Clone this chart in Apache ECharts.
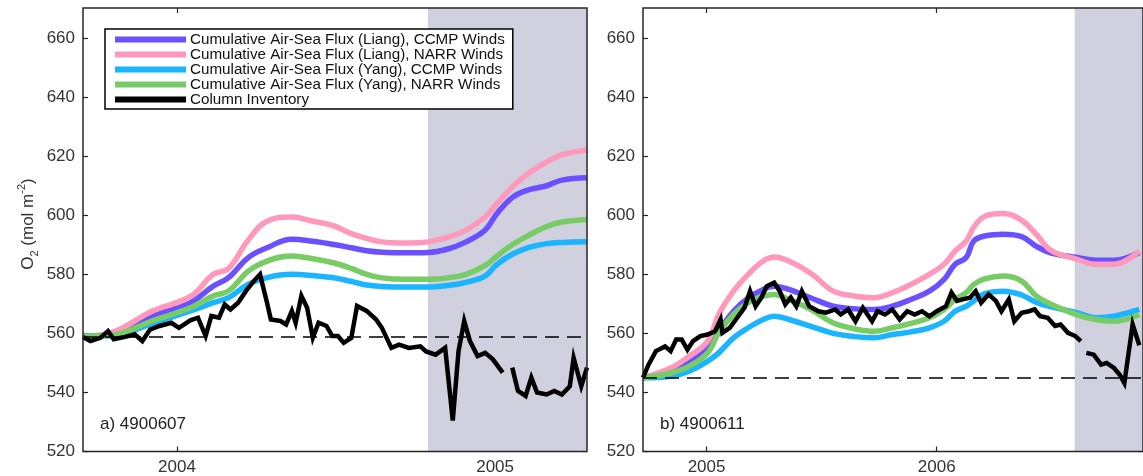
<!DOCTYPE html>
<html>
<head>
<meta charset="utf-8">
<script src="https://cdn.jsdelivr.net/npm/echarts@6/dist/echarts.min.js"></script>
<style>
html,body{margin:0;padding:0;background:#ffffff;}
#c{width:1143px;height:476px;}
</style>
</head>
<body>
<div id="c"></div>
<script>
// ---------- DATA ----------
const seriesNames = [
  'Cumulative Air-Sea Flux (Liang), CCMP Winds',
  'Cumulative Air-Sea Flux (Liang), NARR Winds',
  'Cumulative Air-Sea Flux (Yang), CCMP Winds',
  'Cumulative Air-Sea Flux (Yang), NARR Winds',
  'Column Inventory'
];
const panelLabels = ['a) 4900607', 'b) 4900611'];
const yTicks = [520, 540, 560, 580, 600, 620, 640, 660];
const xTicksA = [2004, 2005];
const xTicksB = [2005, 2006];

// Panel a (decimal years)
const tA = [2003.704, 2003.801, 2003.921, 2004.042, 2004.114, 2004.162, 2004.223, 2004.283, 2004.361, 2004.427, 2004.488, 2004.548, 2004.596, 2004.644, 2004.717, 2004.789, 2004.849, 2004.909, 2004.969, 2005.006, 2005.054, 2005.102, 2005.162, 2005.210, 2005.289];
const liangCCMP_A = [559, 560, 565.8, 570.4, 576, 578.9, 585.6, 589, 591.9, 591.2, 590.2, 589, 588, 587.5, 587.3, 587.4, 588.5, 591, 595, 600.6, 606, 608.5, 610, 611.9, 612.7];
const liangNARR_A = [559, 560.5, 567.5, 572.5, 580, 582, 591.5, 598, 599.4, 598, 596.6, 593.8, 592.2, 591, 590.6, 591, 592.5, 595, 599.5, 604, 609.6, 614, 618, 620.5, 622];
const yangCCMP_A = [559, 559.3, 563.3, 567.6, 570.4, 572.1, 576.6, 578.9, 580, 579.6, 578.9, 577.6, 576.4, 575.9, 575.7, 575.7, 576.2, 577.3, 579.5, 583.4, 586.8, 589, 590.4, 590.8, 591];
const yangNARR_A = [559, 559.5, 564.2, 568.7, 572.7, 574.4, 581, 584.5, 586.2, 585.3, 584, 582, 580, 578.8, 578.3, 578.3, 578.8, 580, 583, 586.2, 590, 593, 596.2, 597.7, 598.6];
const columnA_t = [2003.704, 2003.728, 2003.759, 2003.783, 2003.801, 2003.837, 2003.867, 2003.891, 2003.915, 2003.945, 2003.982, 2004.006, 2004.042, 2004.066, 2004.090, 2004.108, 2004.132, 2004.150, 2004.168, 2004.192, 2004.217, 2004.241, 2004.261, 2004.283, 2004.295, 2004.325, 2004.343, 2004.361, 2004.373, 2004.391, 2004.409, 2004.427, 2004.445, 2004.470, 2004.488, 2004.506, 2004.524, 2004.548, 2004.566, 2004.596, 2004.626, 2004.644, 2004.674, 2004.698, 2004.729, 2004.765, 2004.783, 2004.813, 2004.843, 2004.867, 2004.885, 2004.903, 2004.921, 2004.945, 2004.969, 2004.993, 2005.024, 2005.039, 2005.054, 2005.072, 2005.096, 2005.114, 2005.132, 2005.162, 2005.186, 2005.210, 2005.235, 2005.247, 2005.271, 2005.289];
const columnA_v = [558.8, 557.4, 558.5, 560.8, 558, 558.8, 559.7, 557.4, 561.3, 562.5, 563.6, 561.9, 564.4, 565.3, 559.1, 565.9, 565.3, 569.8, 568.1, 570.4, 574.4, 577.7, 580, 570.4, 564.7, 564.2, 563, 567.6, 563.6, 572.7, 568.7, 558.5, 563.6, 562.5, 559.1, 559.1, 556.8, 558.5, 569.3, 567.6, 564.7, 561.9, 555.1, 556.2, 555.1, 555.6, 553.9, 552.8, 555.1, 530.5, 553.9, 564.2, 557.4, 552.3, 553.4, 551.2, 546.7, null, 548.4, 540.5, 538.8, 545, 540, 539.3, 540.5, 539.3, 542.1, 551.7, 542.1, 548.4];

// Panel b (decimal years)
const tB = [2004.724, 2004.844, 2004.925, 2005.005, 2005.053, 2005.117, 2005.181, 2005.246, 2005.294, 2005.358, 2005.454, 2005.551, 2005.647, 2005.727, 2005.807, 2005.888, 2005.968, 2006.032, 2006.080, 2006.128, 2006.161, 2006.209, 2006.289, 2006.369, 2006.433, 2006.498, 2006.610, 2006.690, 2006.770, 2006.880];
const liangCCMP_B = [545, 547.2, 550, 555.1, 560.7, 567.5, 572, 574.9, 576, 574.9, 572, 569.2, 568.3, 568.1, 569.2, 571.5, 574.3, 578.3, 583.4, 585.7, 591.3, 593, 593.6, 592.8, 589.5, 587.2, 585.7, 584.8, 584.8, 587.4];
const liangNARR_B = [545, 548.3, 552.3, 557.4, 566.4, 574.3, 580, 584.5, 585.9, 584.5, 580.3, 574.3, 572.6, 572.1, 573.8, 576.6, 580, 583.4, 587.9, 591.3, 596, 599.7, 600.6, 598.3, 593.5, 588, 585.1, 583.4, 583.4, 587.9];
const yangCCMP_B = [545, 545.5, 547.2, 550.6, 553.4, 558.5, 561.9, 564.7, 565.8, 564.7, 562.4, 560, 558.9, 558.5, 559.6, 560.5, 561.9, 564.1, 567.5, 569.2, 571, 573.5, 574.3, 573, 570.5, 569, 567, 565.3, 565.8, 568.1];
const yangNARR_B = [545, 546.6, 548.9, 553.4, 560.2, 566.4, 570.4, 572.6, 573.2, 571.5, 568.1, 563.5, 561.5, 560.7, 561.9, 563.4, 565.3, 568.1, 571.5, 573.8, 576.6, 578.5, 579.4, 577.7, 572.6, 569.8, 566.3, 564.7, 564.1, 566.4];
const columnB_t = [2004.724, 2004.748, 2004.780, 2004.820, 2004.844, 2004.868, 2004.892, 2004.917, 2004.941, 2004.973, 2005.005, 2005.037, 2005.061, 2005.069, 2005.101, 2005.133, 2005.165, 2005.189, 2005.213, 2005.238, 2005.262, 2005.294, 2005.318, 2005.342, 2005.366, 2005.390, 2005.414, 2005.446, 2005.486, 2005.518, 2005.559, 2005.583, 2005.615, 2005.647, 2005.679, 2005.719, 2005.743, 2005.775, 2005.807, 2005.839, 2005.872, 2005.904, 2005.936, 2005.968, 2006.000, 2006.040, 2006.064, 2006.088, 2006.112, 2006.144, 2006.169, 2006.193, 2006.225, 2006.257, 2006.281, 2006.313, 2006.337, 2006.369, 2006.401, 2006.425, 2006.449, 2006.482, 2006.514, 2006.538, 2006.570, 2006.602, 2006.626, 2006.638, 2006.650, 2006.682, 2006.714, 2006.738, 2006.770, 2006.795, 2006.815, 2006.851, 2006.880];
const columnB_v = [545, 549.4, 554, 555.6, 554, 557.9, 557.9, 554.5, 557.4, 559.1, 559.6, 560.7, 564.7, 560.2, 561.9, 565.3, 568.7, 574.3, 569.2, 572.1, 576, 577.2, 574.3, 569.8, 572.1, 569.2, 574.3, 569.2, 567.5, 567, 568.1, 566.4, 568.1, 564.1, 568.7, 564.1, 567.5, 566.4, 568.1, 564.7, 567.5, 566.4, 567.5, 565.8, 567.5, 569.2, 573.8, 571, 571.5, 572.1, 574.3, 570.4, 573.2, 571, 567.5, 571.5, 564.1, 567, 567.5, 568.1, 565.8, 565.3, 562.5, 563, 560.2, 559.1, 557.4, null, 553.4, 552.8, 549.4, 550, 548.3, 546, 543.2, 563, 556];

// axis extents, shaded periods and reference levels
const xRangeA = [2003.7044, 2005.289];
const xRangeB = [2004.724, 2006.896];
const shadeA = [2004.789, 2005.289];
const shadeB = [2006.599, 2006.896];
const baseA = 558.8;
const baseB = 545;
const yRange = [520, 670.2];

// ---------- CHART ----------
const FONT = '"Liberation Sans", Arial, Helvetica, sans-serif';
const AX = '#262626';
const colors = ['#6a50ff', '#ff99bb', '#1ab4ff', '#78cc66', '#000000'];
const zip = (t, v) => t.map((x, i) => [x, v[i] == null ? '-' : v[i]]);

const panels = [
  { xr: xRangeA, ticks: xTicksA, shade: shadeA, base: baseA, t: tA,
    curves: [liangCCMP_A, liangNARR_A, yangCCMP_A, yangNARR_A], ct: columnA_t, cv: columnA_v, left: 83 },
  { xr: xRangeB, ticks: xTicksB, shade: shadeB, base: baseB, t: tB,
    curves: [liangCCMP_B, liangNARR_B, yangCCMP_B, yangNARR_B], ct: columnB_t, cv: columnB_v, left: 643 }
];

const grid = [], xAxis = [], yAxis = [], series = [];
panels.forEach((p, i) => {
  grid.push({ left: p.left, top: 8, width: 504, height: 443.5, show: true,
    backgroundColor: 'transparent', borderColor: AX, borderWidth: 1.5, z: 10 });
  const tickStyle = { color: AX, width: 1.2 };
  xAxis.push({ type: 'value', gridIndex: i, position: 'bottom', min: p.xr[0], max: p.xr[1],
    axisLine: { show: false }, splitLine: { show: false },
    axisTick: { show: true, inside: true, length: 5, lineStyle: tickStyle, customValues: p.ticks },
    axisLabel: { show: true, customValues: p.ticks, formatter: v => String(Math.round(v)),
      fontFamily: FONT, fontSize: 17, color: '#333', margin: 7 } });
  xAxis.push({ type: 'value', gridIndex: i, position: 'top', min: p.xr[0], max: p.xr[1],
    axisLine: { show: false }, splitLine: { show: false },
    axisTick: { show: true, inside: true, length: 5, lineStyle: tickStyle, customValues: p.ticks },
    axisLabel: { show: false } });
  yAxis.push({ type: 'value', gridIndex: i, position: 'left', min: yRange[0], max: yRange[1],
    axisLine: { show: false }, splitLine: { show: false },
    axisTick: { show: true, inside: true, length: 5, lineStyle: tickStyle, customValues: yTicks },
    axisLabel: { show: true, customValues: yTicks, fontFamily: FONT, fontSize: 17, color: '#333', margin: 8 } });
  yAxis.push({ type: 'value', gridIndex: i, position: 'right', min: yRange[0], max: yRange[1],
    axisLine: { show: false }, splitLine: { show: false },
    axisTick: { show: true, inside: true, length: 5, lineStyle: tickStyle, customValues: yTicks },
    axisLabel: { show: false } });

  const xi = 2 * i, yi = 2 * i;
  // shaded period + dashed reference line
  series.push({ type: 'line', name: 'shade' + i, xAxisIndex: xi, yAxisIndex: yi, data: [], z: 1,
    silent: true,
    markArea: { silent: true, itemStyle: { color: '#d0d0de' },
      data: [[{ xAxis: p.shade[0] }, { xAxis: p.shade[1] }]] },
    markLine: { silent: true, symbol: ['none', 'none'], label: { show: false },
      lineStyle: { color: '#000', width: 1.6, type: [14, 8] },
      data: [{ yAxis: p.base }] } });
  p.curves.forEach((vals, k) => {
    series.push({ type: 'line', name: seriesNames[k], xAxisIndex: xi, yAxisIndex: yi,
      data: zip(p.t, vals), showSymbol: false, smooth: 0.4, z: 3 + k * 0.01,
      lineStyle: { color: colors[k], width: 5.5 }, itemStyle: { color: colors[k] } });
  });
  series.push({ type: 'line', name: seriesNames[4], xAxisIndex: xi, yAxisIndex: yi,
    data: zip(p.ct, p.cv), showSymbol: false, connectNulls: false, z: 4,
    lineStyle: { color: '#000', width: 4.5, join: 'miter' }, itemStyle: { color: '#000' } });
});

const option = {
  animation: false,
  backgroundColor: '#ffffff',
  grid, xAxis, yAxis, series,
  legend: {
    data: seriesNames, orient: 'vertical', left: 105, top: 29,
    selectedMode: false, icon: 'rect', itemWidth: 71, itemHeight: 6, itemGap: 0,
    padding: [3, 8, 2, 10], borderColor: '#000', borderWidth: 1.5, backgroundColor: '#fff',
    textStyle: { fontFamily: FONT, fontSize: 15.2, lineHeight: 13, color: '#111', padding: [0, 0, 0, -1] }
  },
  graphic: [
    { type: 'text', left: 100, top: 416, style: { text: panelLabels[0], font: '17px ' + FONT, fill: '#222' } },
    { type: 'text', left: 660, top: 416, style: { text: panelLabels[1], font: '17px ' + FONT, fill: '#222' } },
    { type: 'text', x: 28, y: 224, rotation: Math.PI / 2,
      style: { text: '{a|O}{s|2}{a| (mol m}{p|-2}{a|)}', align: 'center', verticalAlign: 'middle',
        rich: {
          a: { fontFamily: FONT, fontSize: 17, lineHeight: 24, verticalAlign: 'middle', fill: '#333' },
          s: { fontFamily: FONT, fontSize: 11, lineHeight: 11, verticalAlign: 'bottom', fill: '#333' },
          p: { fontFamily: FONT, fontSize: 11, lineHeight: 11, verticalAlign: 'top', fill: '#333' }
        } } }
  ]
};

const chart = echarts.init(document.getElementById('c'));
chart.setOption(option);
</script>
</body>
</html>
